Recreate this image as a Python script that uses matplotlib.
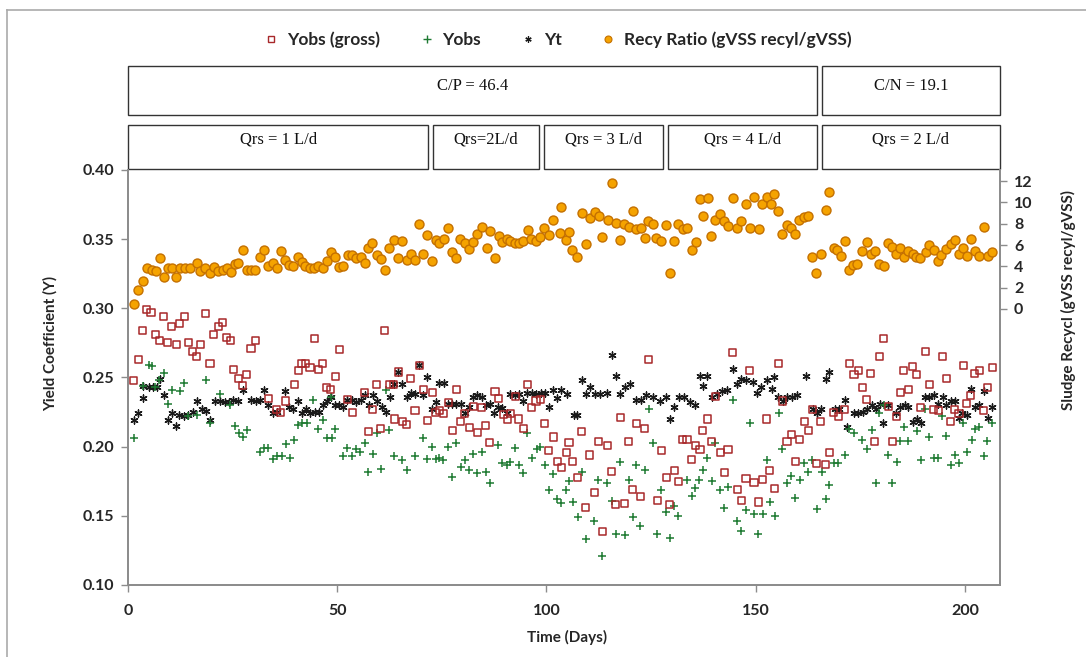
import matplotlib
matplotlib.use("Agg")
import matplotlib.pyplot as plt
from matplotlib.patches import Rectangle
from matplotlib.lines import Line2D
import matplotlib.transforms as mtransforms

plt.rcParams['font.family'] = ['Lato', 'DejaVu Sans']

# ---------------- data (day, value) ----------------
yobs_gross = [(1.4,0.248),(2.5,0.263),(3.5,0.284),(4.5,0.299),(5.5,0.297),(6.5,0.281),(7.5,0.277),(8.4,0.294),(9.5,0.275),(10.4,0.287),(11.5,0.274),(12.4,0.289),(13.5,0.294),(14.4,0.275),(15.5,0.269),(16.4,0.265),(17.4,0.274),(18.6,0.296),(19.6,0.260),(20.5,0.281),(21.6,0.287),(22.6,0.290),(23.6,0.279),(24.6,0.277),(25.3,0.256),(26.3,0.249),(27.4,0.244),(28.3,0.252),(29.4,0.271),(30.4,0.277),(33.5,0.235),(35.5,0.227),(36.5,0.225),(37.7,0.233),(39.7,0.245),(40.7,0.255),(41.5,0.260),(42.5,0.260),(43.5,0.257),(44.5,0.278),(45.5,0.256),(46.4,0.260),(47.5,0.243),(48.5,0.241),(49.5,0.251),(50.5,0.270),(52.4,0.234),(53.6,0.225),(56.6,0.239),(57.4,0.211),(58.5,0.227),(59.4,0.245),(60.4,0.213),(61.4,0.284),(62.4,0.245),(63.5,0.245),(63.6,0.220),(64.6,0.254),(65.6,0.218),(66.6,0.216),(67.6,0.249),(68.6,0.226),(69.6,0.259),(70.6,0.241),(71.6,0.219),(72.7,0.239),(73.4,0.225),(74.4,0.226),(75.5,0.224),(76.5,0.232),(77.5,0.212),(78.5,0.241),(79.5,0.218),(80.5,0.224),(81.6,0.214),(82.5,0.229),(83.5,0.210),(84.5,0.228),(85.5,0.215),(86.5,0.203),(87.7,0.240),(88.6,0.235),(89.7,0.223),(90.6,0.220),(91.4,0.224),(92.5,0.236),(93.4,0.220),(94.5,0.213),(95.4,0.245),(96.5,0.228),(97.5,0.233),(98.6,0.234),(99.6,0.217),(100.6,0.197),(101.6,0.207),(102.6,0.189),(103.6,0.185),(104.7,0.196),(105.4,0.203),(106.3,0.189),(107.5,0.178),(108.4,0.211),(109.4,0.156),(110.4,0.194),(111.4,0.167),(112.5,0.204),(113.4,0.139),(114.6,0.201),(115.6,0.182),(116.6,0.158),(117.6,0.221),(118.6,0.159),(119.7,0.204),(120.6,0.169),(121.5,0.217),(122.5,0.164),(123.5,0.213),(124.5,0.263),(126.5,0.161),(127.5,0.197),(128.6,0.178),(129.5,0.158),(130.5,0.183),(131.5,0.175),(132.5,0.205),(133.6,0.205),(134.7,0.191),(135.6,0.201),(136.7,0.198),(137.3,0.212),(138.4,0.220),(139.5,0.204),(140.4,0.236),(141.5,0.196),(142.5,0.181),(143.4,0.198),(144.5,0.268),(145.6,0.169),(146.6,0.161),(147.7,0.177),(148.6,0.255),(149.6,0.174),(150.6,0.160),(151.6,0.176),(152.6,0.220),(153.4,0.183),(154.4,0.170),(155.4,0.260),(156.4,0.233),(157.5,0.204),(158.6,0.209),(159.5,0.189),(160.4,0.205),(161.6,0.218),(162.6,0.212),(163.6,0.227),(164.6,0.188),(165.6,0.218),(166.7,0.187),(167.6,0.196),(168.7,0.225),(169.7,0.222),(171.3,0.227),(172.4,0.260),(173.5,0.252),(174.5,0.255),(175.5,0.243),(176.5,0.234),(177.5,0.253),(178.5,0.204),(179.5,0.265),(180.5,0.278),(181.7,0.229),(182.6,0.204),(183.7,0.222),(184.6,0.239),(185.4,0.255),(186.5,0.241),(187.4,0.258),(188.4,0.252),(189.5,0.228),(190.6,0.269),(191.5,0.245),(192.6,0.227),(193.6,0.226),(194.6,0.265),(195.6,0.249),(196.6,0.218),(197.6,0.227),(198.6,0.224),(199.6,0.259),(200.5,0.231),(201.4,0.237),(202.4,0.253),(203.4,0.255),(204.4,0.226),(205.4,0.243),(206.5,0.257)]

yobs = [(1.4,0.206),(3.5,0.244),(4.9,0.259),(5.7,0.258),(6.5,0.243),(7.5,0.248),(8.7,0.253),(9.5,0.231),(10.4,0.241),(12.4,0.240),(13.5,0.246),(14.4,0.222),(16.4,0.223),(18.6,0.248),(19.6,0.217),(22.0,0.238),(24.4,0.230),(25.6,0.215),(26.6,0.210),(27.4,0.207),(28.4,0.212),(31.5,0.196),(32.5,0.199),(33.5,0.199),(34.7,0.191),(35.7,0.193),(36.7,0.193),(37.7,0.202),(38.7,0.192),(39.7,0.205),(40.7,0.216),(41.7,0.217),(42.7,0.217),(44.3,0.234),(45.5,0.213),(46.5,0.219),(47.5,0.206),(48.5,0.236),(48.7,0.206),(49.5,0.213),(51.3,0.193),(52.4,0.199),(53.5,0.193),(54.5,0.198),(55.4,0.196),(56.6,0.203),(57.4,0.182),(58.5,0.195),(59.4,0.210),(60.4,0.184),(61.6,0.241),(62.4,0.212),(63.6,0.193),(65.6,0.190),(66.6,0.183),(68.6,0.193),(70.6,0.206),(71.5,0.191),(72.6,0.200),(73.6,0.191),(74.4,0.192),(75.3,0.190),(76.5,0.200),(77.5,0.178),(78.5,0.203),(79.5,0.185),(80.5,0.190),(81.6,0.183),(82.5,0.195),(83.5,0.181),(84.7,0.196),(85.5,0.182),(86.5,0.174),(88.5,0.201),(89.5,0.188),(90.5,0.187),(91.4,0.189),(92.5,0.199),(93.5,0.187),(94.5,0.181),(95.4,0.210),(96.5,0.192),(97.7,0.198),(98.4,0.200),(99.6,0.187),(100.6,0.169),(101.6,0.180),(102.6,0.162),(103.6,0.159),(104.7,0.169),(105.5,0.175),(106.4,0.160),(107.6,0.149),(108.4,0.182),(109.4,0.133),(111.4,0.146),(112.4,0.176),(113.4,0.121),(114.4,0.174),(115.6,0.161),(116.6,0.137),(117.6,0.189),(118.8,0.136),(119.8,0.176),(120.6,0.149),(121.4,0.187),(122.3,0.143),(123.5,0.183),(124.6,0.227),(125.5,0.203),(126.5,0.137),(127.5,0.169),(128.6,0.153),(129.5,0.134),(130.5,0.157),(131.5,0.150),(133.5,0.176),(134.7,0.164),(135.5,0.170),(136.5,0.176),(137.5,0.183),(138.4,0.192),(139.5,0.175),(140.4,0.203),(141.5,0.169),(142.5,0.156),(143.4,0.171),(144.5,0.234),(145.6,0.146),(146.6,0.139),(147.6,0.154),(148.6,0.217),(149.7,0.151),(150.6,0.137),(151.7,0.151),(152.6,0.190),(153.4,0.160),(154.6,0.150),(155.6,0.224),(156.4,0.198),(157.5,0.174),(158.4,0.179),(159.5,0.163),(160.6,0.176),(161.6,0.188),(162.6,0.182),(163.5,0.190),(164.6,0.155),(165.8,0.182),(166.7,0.162),(167.6,0.172),(168.7,0.188),(169.7,0.188),(171.3,0.194),(172.4,0.213),(173.5,0.210),(175.5,0.205),(176.5,0.198),(177.7,0.212),(178.7,0.174),(179.5,0.224),(180.6,0.230),(181.7,0.194),(182.6,0.174),(183.7,0.189),(184.6,0.204),(185.5,0.214),(186.5,0.204),(188.5,0.211),(189.5,0.190),(190.4,0.227),(191.5,0.207),(192.6,0.192),(193.6,0.192),(194.6,0.222),(195.6,0.208),(196.6,0.187),(197.6,0.194),(198.6,0.188),(199.6,0.217),(200.6,0.196),(201.6,0.205),(202.4,0.213),(203.4,0.214),(204.5,0.193),(205.4,0.204),(206.5,0.217)]

yt = [(1.4,0.219),(2.5,0.224),(3.5,0.235),(3.7,0.244),(4.9,0.243),(5.9,0.243),(6.9,0.243),(7.6,0.249),(8.7,0.237),(9.5,0.219),(10.4,0.224),(11.5,0.215),(12.3,0.223),(13.5,0.222),(14.4,0.223),(15.5,0.225),(16.6,0.233),(17.6,0.227),(18.6,0.226),(19.6,0.219),(20.8,0.233),(22.0,0.233),(23.2,0.232),(24.2,0.232),(25.2,0.234),(26.4,0.233),(27.4,0.241),(29.4,0.234),(30.6,0.233),(31.5,0.234),(32.5,0.241),(33.5,0.230),(34.6,0.224),(35.5,0.225),(37.5,0.240),(38.5,0.229),(39.5,0.227),(40.7,0.233),(41.5,0.224),(42.5,0.227),(43.6,0.224),(44.7,0.225),(45.7,0.225),(46.7,0.230),(47.6,0.233),(48.4,0.236),(49.5,0.230),(50.5,0.230),(51.5,0.229),(52.4,0.234),(53.6,0.234),(54.6,0.232),(55.6,0.234),(56.6,0.237),(57.7,0.230),(58.6,0.237),(59.6,0.233),(60.6,0.229),(61.6,0.225),(62.5,0.236),(63.6,0.245),(64.6,0.254),(65.6,0.245),(66.6,0.236),(67.6,0.239),(68.6,0.238),(69.6,0.259),(70.6,0.237),(71.5,0.250),(72.7,0.227),(73.6,0.232),(74.4,0.246),(75.5,0.246),(76.5,0.231),(77.5,0.231),(78.5,0.231),(79.5,0.231),(80.5,0.224),(81.6,0.229),(82.5,0.236),(83.5,0.237),(84.5,0.236),(85.5,0.230),(86.5,0.231),(87.5,0.224),(88.5,0.229),(89.5,0.228),(90.5,0.224),(91.4,0.238),(92.5,0.237),(93.5,0.238),(94.5,0.233),(95.4,0.239),(96.5,0.239),(97.5,0.238),(98.6,0.239),(99.6,0.239),(100.6,0.229),(101.6,0.241),(102.6,0.235),(103.6,0.241),(104.8,0.238),(106.6,0.223),(107.4,0.223),(108.4,0.248),(109.4,0.238),(110.4,0.243),(111.6,0.238),(112.8,0.238),(114.4,0.239),(115.6,0.266),(116.6,0.251),(117.6,0.238),(118.8,0.243),(120.0,0.245),(121.4,0.234),(122.7,0.234),(123.9,0.237),(125.5,0.236),(127.1,0.233),(128.6,0.236),(129.5,0.220),(130.5,0.229),(131.7,0.236),(132.9,0.236),(134.3,0.232),(135.5,0.230),(136.7,0.251),(137.5,0.244),(138.3,0.251),(139.5,0.236),(140.7,0.238),(141.9,0.240),(143.1,0.241),(144.5,0.256),(145.6,0.245),(146.6,0.249),(147.8,0.248),(149.3,0.247),(150.4,0.239),(151.4,0.243),(152.6,0.248),(153.8,0.242),(154.4,0.250),(155.4,0.236),(156.6,0.233),(157.6,0.236),(158.7,0.236),(159.9,0.237),(162.0,0.251),(163.8,0.227),(164.7,0.224),(165.6,0.227),(166.7,0.249),(167.6,0.254),(168.9,0.227),(170.0,0.227),(171.3,0.234),(171.9,0.214),(173.5,0.224),(174.5,0.224),(175.7,0.225),(176.7,0.227),(177.7,0.230),(178.7,0.227),(179.7,0.231),(180.5,0.217),(181.7,0.230),(183.5,0.224),(184.6,0.229),(185.7,0.230),(186.5,0.229),(187.5,0.218),(188.5,0.220),(189.5,0.217),(190.4,0.236),(191.5,0.236),(192.6,0.237),(193.6,0.231),(194.7,0.236),(195.6,0.230),(196.6,0.233),(197.6,0.233),(198.6,0.221),(199.4,0.224),(200.6,0.223),(201.4,0.242),(202.4,0.229),(203.4,0.230),(204.5,0.240),(205.6,0.221),(206.5,0.229)]

recy_ratio = [(1.4,0.5),(2.5,1.8),(3.5,2.6),(4.5,3.8),(5.7,3.7),(6.7,3.6),(7.6,4.75),(8.6,3.0),(9.6,3.8),(10.4,3.8),(11.5,3.0),(12.5,3.8),(13.7,3.8),(14.9,3.8),(16.4,4.3),(17.3,3.6),(18.4,3.8),(19.6,3.4),(20.6,3.9),(21.6,3.6),(22.8,3.7),(23.7,3.8),(24.6,3.5),(25.6,4.2),(26.4,4.3),(27.6,5.5),(28.4,3.7),(29.4,3.7),(30.3,3.7),(31.5,4.85),(32.6,5.5),(33.5,4.0),(34.6,4.3),(35.5,3.8),(36.6,5.4),(37.5,4.6),(38.5,4.1),(39.5,4.0),(40.7,4.85),(41.5,4.4),(42.3,4.0),(43.5,3.8),(44.5,3.8),(45.5,4.0),(46.5,3.8),(47.5,4.5),(48.5,5.3),(49.4,4.85),(50.5,3.9),(51.4,4.0),(52.5,5.1),(53.5,5.1),(54.5,4.75),(55.6,4.9),(56.6,4.35),(57.4,5.7),(58.4,6.2),(59.4,5.1),(60.4,4.7),(61.4,3.7),(62.4,5.7),(63.6,6.5),(64.6,4.75),(65.6,6.4),(66.6,4.6),(67.6,5.2),(68.6,4.6),(69.6,8.0),(70.6,5.2),(71.5,6.9),(72.7,4.5),(73.5,6.5),(74.4,6.2),(75.5,6.6),(76.5,7.6),(77.5,5.3),(78.5,4.75),(79.3,6.6),(80.5,6.2),(81.5,5.6),(82.5,6.3),(83.5,7.0),(84.7,7.7),(85.7,5.7),(86.6,7.3),(87.7,4.75),(88.7,6.85),(89.5,6.3),(90.5,6.6),(91.4,6.4),(92.5,6.2),(93.4,6.2),(94.4,6.4),(95.5,7.4),(96.4,6.6),(97.5,6.4),(98.4,6.8),(99.5,7.6),(100.6,6.9),(101.6,8.35),(103.2,7.1),(103.6,9.6),(104.7,6.5),(105.4,7.2),(106.2,5.5),(107.4,4.9),(108.4,9.0),(109.4,6.1),(110.4,8.5),(111.5,9.1),(112.6,8.7),(113.4,6.8),(114.6,8.35),(115.6,11.85),(116.6,8.1),(117.7,6.5),(118.6,8.0),(119.8,7.7),(120.7,9.2),(121.4,7.5),(122.5,7.6),(123.5,6.7),(124.3,8.3),(125.5,8.0),(126.3,6.7),(127.5,6.4),(128.6,7.9),(129.5,3.4),(130.5,6.4),(131.5,8.0),(132.7,7.5),(133.6,7.6),(134.7,5.5),(135.7,6.3),(136.7,10.3),(137.5,8.75),(138.5,10.4),(139.4,6.85),(140.4,8.35),(141.5,8.9),(142.5,8.3),(143.4,7.8),(144.5,10.4),(145.6,7.6),(146.6,8.3),(147.6,9.85),(148.6,7.6),(149.6,10.5),(150.8,7.5),(151.6,9.85),(152.6,10.5),(153.6,9.85),(154.4,10.8),(155.4,9.2),(156.4,7.0),(157.4,7.9),(158.4,7.6),(159.5,7.0),(160.4,8.35),(161.5,8.6),(162.5,8.7),(163.5,4.9),(164.5,3.4),(165.6,5.2),(166.7,9.3),(167.6,11.0),(168.7,5.7),(169.5,5.5),(170.5,5.0),(171.3,6.4),(172.3,3.65),(173.3,4.1),(174.3,4.2),(175.4,5.4),(176.5,6.25),(177.5,5.2),(178.5,5.4),(179.5,4.2),(180.6,4.0),(181.7,6.2),(182.6,5.8),(183.6,5.2),(184.6,5.7),(185.5,4.85),(186.4,5.4),(187.5,5.2),(188.4,4.85),(189.4,4.75),(190.6,5.3),(191.4,6.0),(192.6,5.5),(193.5,4.5),(194.4,5.1),(195.6,5.6),(196.6,6.1),(197.6,6.5),(198.6,5.2),(199.6,5.7),(200.6,5.0),(201.4,6.6),(202.4,5.4),(203.4,5.0),(204.5,7.7),(205.6,5.0),(206.5,5.3)]

cp_phases = [("C/P = 46.4", 0.0, 164.6), ("C/N = 19.1", 165.8, 208.4)]
qrs_phases = [("Qrs = 1 L/d", 0.0, 71.8), ("Qrs=2L/d", 73.0, 98.2),
              ("Qrs = 3 L/d", 99.4, 127.8), ("Qrs = 4 L/d", 129.0, 164.6),
              ("Qrs = 2 L/d", 165.8, 208.4)]
x_ticks = [0, 50, 100, 150, 200]
y_ticks = [0.10, 0.15, 0.20, 0.25, 0.30, 0.35, 0.40]
y2_ticks = [0, 2, 4, 6, 8, 10, 12]

# ---------------- figure ----------------
W, H = 1086, 657
fig = plt.figure(figsize=(W/100, H/100), dpi=100)
ax = fig.add_axes([128/W, 1-585/H, 872/W, 415/H])
ax2 = ax.twinx()

RED = "#A8282A"
GREEN = "#1E7A32"
ORANGE_FACE = "#F5A300"
ORANGE_EDGE = "#C47000"
AXC = "#8C8C8C"
TXT = "#262626"

yt_marker = (6, 2, 0)

def unpack(pairs):
    return [p[0] for p in pairs], [p[1] for p in pairs]

gx, gy = unpack(yobs_gross)
px_, py_ = unpack(yobs)
tx, ty = unpack(yt)
rx, ry = unpack(recy_ratio)

ax.scatter(tx, ty, marker=yt_marker, s=26, c="#1a1a1a", linewidths=1.0, zorder=3)
ax.scatter(px_, py_, marker="+", s=38, c=GREEN, linewidths=1.1, zorder=4)
ax.scatter(gx, gy, marker="s", s=26, facecolors="none", edgecolors=RED, linewidths=1.1, zorder=5)
ax2.scatter(rx, ry, marker="o", s=42, c=ORANGE_FACE, edgecolors=ORANGE_EDGE, linewidths=1.0, zorder=3)

ax.set_xlim(0, 208.4)
ax.set_ylim(0.10, 0.40)
ax2.set_ylim(-25.9, 13.04)

ax.set_xticks(x_ticks)
ax.set_yticks(y_ticks)
ax.set_yticklabels([f"{v:.2f}" for v in y_ticks])
ax2.set_yticks(y2_ticks)

for a in (ax, ax2):
    for s in a.spines.values():
        s.set_color(AXC)
        s.set_linewidth(1.3)
    a.spines['top'].set_visible(False)
ax.tick_params(axis='both', direction='out', length=5, width=1.0, color=AXC,
               labelsize=11.5, labelcolor=TXT)
ax.tick_params(axis='x', pad=9)
ax.tick_params(axis='y', pad=5)
ax2.tick_params(axis='y', direction='out', length=5, width=1.0, color=AXC,
                labelsize=11.5, labelcolor=TXT, pad=5)
for lab in ax.get_xticklabels() + ax.get_yticklabels() + ax2.get_yticklabels():
    lab.set_fontweight('bold')

# Axis labels
fig.text(567/W, 1-637/H, "Time (Days)", ha='center', va='center',
         fontsize=11, fontweight='bold', color=TXT)
fig.text(50/W, 1-343/H, "Yield Coefficient (Y)", ha='center', va='center',
         rotation=90, fontsize=11, fontweight='bold', color=TXT)
fig.text(1068/W, 1-300/H, "Sludge Recycl (gVSS recyl/gVSS)", ha='center', va='center',
         rotation=90, fontsize=11, fontweight='bold', color=TXT)

# Phase boxes above plot
trans = mtransforms.blended_transform_factory(ax.transData, ax.transAxes)
def ypx(p):
    return 1 + (170 - p) / 415.0

for label, x0, x1 in cp_phases:
    y0, y1 = ypx(115), ypx(66)
    ax.add_patch(Rectangle((x0, y0), x1 - x0, y1 - y0, transform=trans,
                           fill=False, edgecolor="#333333", linewidth=1.0, clip_on=False))
    ax.text((x0 + x1) / 2, ypx(86), label, transform=trans, ha='center', va='center',
            fontsize=12, family=['Liberation Serif'], color="#111111")

for label, x0, x1 in qrs_phases:
    y0, y1 = ypx(168.5), ypx(125)
    ax.add_patch(Rectangle((x0, y0), x1 - x0, y1 - y0, transform=trans,
                           fill=False, edgecolor="#333333", linewidth=1.0, clip_on=False))
    ax.text((x0 + x1) / 2, ypx(140), label, transform=trans, ha='center', va='center',
            fontsize=12, family=['Liberation Serif'], color="#111111")

# Legend
handles = [
    Line2D([], [], ls='none', marker='s', markersize=4, markerfacecolor='none',
           markeredgecolor=RED, markeredgewidth=1.0, label="Yobs (gross)"),
    Line2D([], [], ls='none', marker='+', markersize=6, color=GREEN,
           markeredgewidth=1.0, label="Yobs"),
    Line2D([], [], ls='none', marker=yt_marker, markersize=4.5, color="#1a1a1a",
           markeredgewidth=0.9, label="Yt"),
    Line2D([], [], ls='none', marker='o', markersize=5, markerfacecolor=ORANGE_FACE,
           markeredgecolor=ORANGE_EDGE, markeredgewidth=0.8,
           label="Recy Ratio (gVSS recyl/gVSS)"),
]
leg = fig.legend(handles=handles, loc='center', bbox_to_anchor=(558/W, 1-40/H), ncol=4,
                 frameon=False, handlelength=0.8, handletextpad=0.5, columnspacing=2.3,
                 prop={'weight': 'bold', 'size': 12.5})
for t in leg.get_texts():
    t.set_color(TXT)

# Outer frame lines (top and left)
fig.add_artist(Line2D([7/W, 1], [1-10/H, 1-10/H], transform=fig.transFigure,
                      color="#AAAAAA", linewidth=1.2))
fig.add_artist(Line2D([7/W, 7/W], [0, 1-10/H], transform=fig.transFigure,
                      color="#AAAAAA", linewidth=1.2))

fig.savefig("out.png", dpi=100)
